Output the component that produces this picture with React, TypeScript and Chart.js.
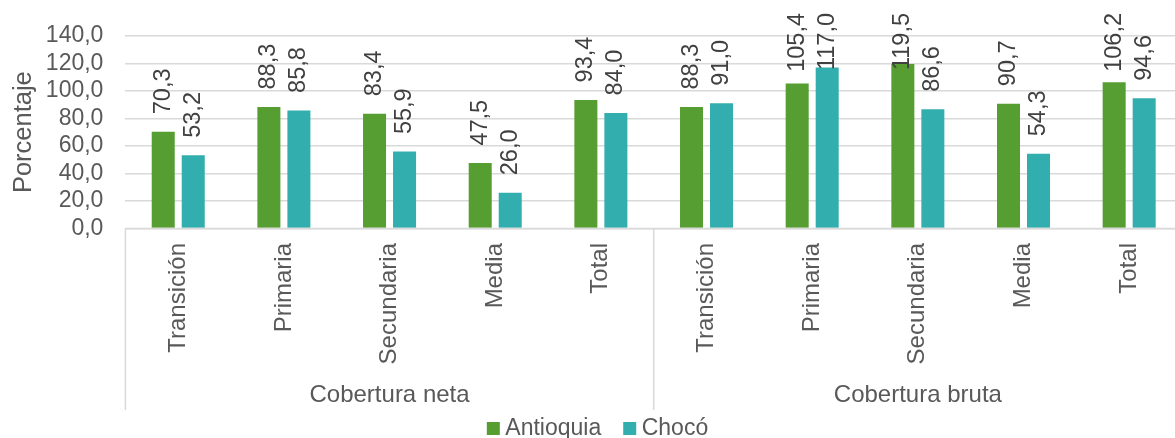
import React, { useEffect, useRef } from "react";
import { Chart, registerables } from "chart.js";

Chart.register(...registerables);

const categories = [
  "Transición", "Primaria", "Secundaria", "Media", "Total",
  "Transición", "Primaria", "Secundaria", "Media", "Total",
];
const groups = ["Cobertura neta", "Cobertura bruta"];
const groupSize = 5;
const antioquia = [70.3, 88.3, 83.4, 47.5, 93.4, 88.3, 105.4, 119.5, 90.7, 106.2];
const choco = [53.2, 85.8, 55.9, 26.0, 84.0, 91.0, 117.0, 86.6, 54.3, 94.6];
const seriesNames = ["Antioquia", "Chocó"];
const seriesColors = ["#569E31", "#33AEAF"];
const yTicks = { min: 0, max: 140, step: 20 };

const FONT = "'Liberation Sans', Arial, sans-serif";
const TEXT = "#595959";
const LABEL = "#404040";
const GRID = "#D9D9D9";

const fmt = (v: number) => v.toFixed(1).replace(".", ",");

const customPlugin = {
  id: "excelLike",
  afterDatasetsDraw(chart: any) {
    const ctx = chart.ctx;
    ctx.save();
    ctx.font = `23.5px ${FONT}`;
    ctx.fillStyle = LABEL;
    ctx.textAlign = "left";
    ctx.textBaseline = "middle";
    chart.data.datasets.forEach((ds: any, di: number) => {
      const meta = chart.getDatasetMeta(di);
      meta.data.forEach((bar: any, i: number) => {
        const text = fmt(ds.data[i]);
        const w = ctx.measureText(text).width;
        let bottom = bar.y - 17.5;
        if (bottom - w < 13) bottom = 13 + w;
        ctx.save();
        ctx.translate(bar.x, bottom);
        ctx.rotate(-Math.PI / 2);
        ctx.fillText(text, 0, 0);
        ctx.restore();
      });
    });
    ctx.restore();
  },
  afterDraw(chart: any) {
    const ctx = chart.ctx;
    const xs = chart.scales.x;
    const area = chart.chartArea;
    ctx.save();
    // x axis line
    ctx.strokeStyle = GRID;
    ctx.lineWidth = 1.5;
    ctx.beginPath();
    ctx.moveTo(area.left, area.bottom);
    ctx.lineTo(area.right, area.bottom);
    ctx.stroke();
    // category labels
    ctx.font = `24px ${FONT}`;
    ctx.fillStyle = TEXT;
    ctx.textAlign = "right";
    ctx.textBaseline = "middle";
    categories.forEach((c, i) => {
      const x = xs.getPixelForValue(i);
      ctx.save();
      ctx.translate(x, area.bottom + 14.5);
      ctx.rotate(-Math.PI / 2);
      ctx.fillText(c, 0, 0);
      ctx.restore();
    });
    // group separators and labels
    const step = xs.getPixelForValue(1) - xs.getPixelForValue(0);
    ctx.beginPath();
    for (let g = 0; g <= groups.length; g++) {
      const x = xs.getPixelForValue(g * groupSize) - step / 2;
      ctx.moveTo(x, area.bottom);
      ctx.lineTo(x, 410);
    }
    ctx.stroke();
    ctx.textAlign = "center";
    groups.forEach((g, gi) => {
      const x0 = xs.getPixelForValue(gi * groupSize);
      const x1 = xs.getPixelForValue(gi * groupSize + groupSize - 1);
      ctx.fillText(g, (x0 + x1) / 2, 395);
    });
    // legend
    ctx.font = `23px ${FONT}`;
    ctx.textAlign = "left";
    const box = 13;
    const widths = seriesNames.map((n) => ctx.measureText(n).width);
    const total = widths.reduce((a, b) => a + b, 0) + seriesNames.length * (box + 5.5) + 22 * (seriesNames.length - 1);
    let x = 597.5 - total / 2;
    seriesNames.forEach((n, i) => {
      ctx.fillStyle = seriesColors[i];
      ctx.fillRect(x, 422, box, box);
      x += box + 5.5;
      ctx.fillStyle = TEXT;
      ctx.fillText(n, x, 428.5);
      x += widths[i] + 22;
    });
    ctx.restore();
  },
};

export default function App() {
  const ref = useRef<HTMLCanvasElement>(null);
  useEffect(() => {
    document.body.style.margin = "0";
    const chart = new Chart(ref.current!, {
      type: "bar",
      data: {
        labels: categories,
        datasets: [
          {
            label: seriesNames[0],
            data: antioquia,
            backgroundColor: seriesColors[0],
            barPercentage: 0.767,
            categoryPercentage: 0.568,
          },
          {
            label: seriesNames[1],
            data: choco,
            backgroundColor: seriesColors[1],
            barPercentage: 0.767,
            categoryPercentage: 0.568,
          },
        ],
      },
      options: {
        responsive: false,
        animation: false,
        layout: { padding: { top: 34, left: 0, right: 0, bottom: 0 } },
        plugins: { legend: { display: false }, tooltip: { enabled: false } },
        scales: {
          x: {
            grid: { display: false, drawTicks: false },
            border: { display: false },
            ticks: { display: false },
            afterFit: (s: any) => {
              s.height = 209.5;
            },
          },
          y: {
            min: yTicks.min,
            max: yTicks.max,
            grid: { color: GRID, lineWidth: 1.5, drawTicks: false },
            border: { display: false },
            ticks: {
              stepSize: yTicks.step,
              autoSkip: false,
              padding: 22,
              color: TEXT,
              font: { family: FONT, size: 23 },
              callback: (v: any) => fmt(Number(v)),
            },
            title: {
              display: true,
              text: "Porcentaje",
              color: TEXT,
              font: { family: FONT, size: 25.5 },
              padding: { top: 9, bottom: 0 },
            },
            afterFit: (s: any) => {
              s.width = 125.4;
            },
          },
        },
      },
      plugins: [customPlugin],
    });
    return () => chart.destroy();
  }, []);
  return (
    <div style={{ position: "fixed", left: 0, top: 0, width: 1175, height: 438, overflow: "hidden", background: "#fff" }}>
      <canvas ref={ref} width={1182} height={438} style={{ width: 1182, height: 438, display: "block" }} />
    </div>
  );
}
